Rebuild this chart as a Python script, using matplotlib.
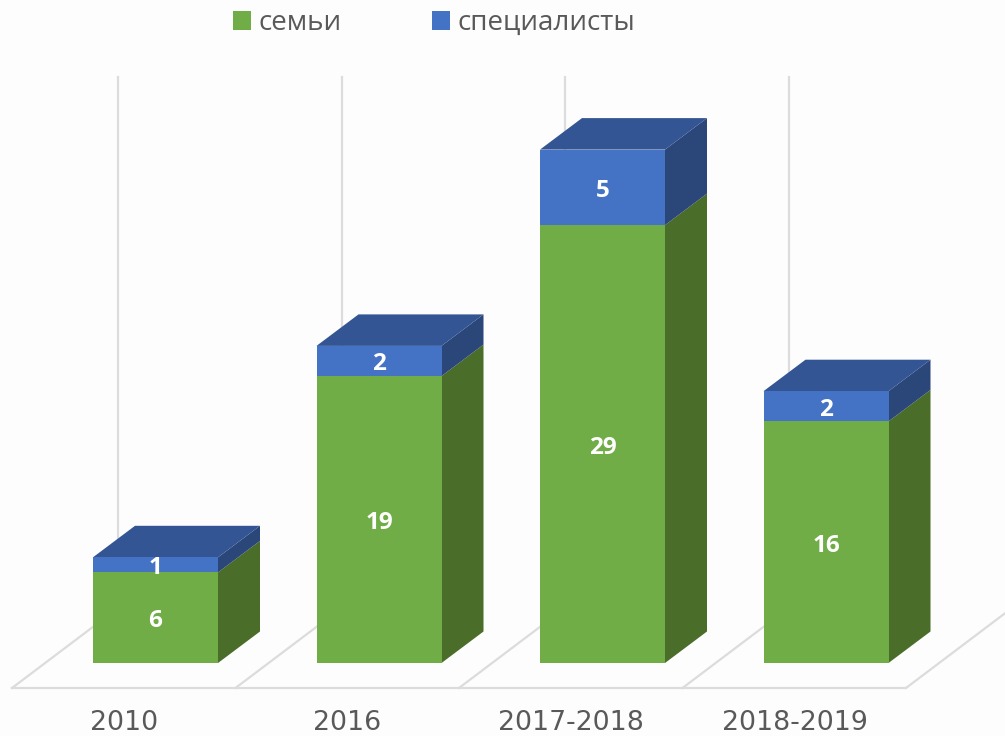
import matplotlib
matplotlib.use("Agg")
import matplotlib.pyplot as plt
from matplotlib.patches import Patch, Polygon

categories = ["2010", "2016", "2017-2018", "2018-2019"]
families = [6, 19, 29, 16]
specialists = [1, 2, 5, 2]
series_names = ["семьи", "специалисты"]

GREEN, GREEN_SIDE = "#70AD47", "#4A6D2A"
BLUE, BLUE_SIDE, BLUE_TOP = "#4472C4", "#2B4679", "#335593"
GRID = "#DCDCDC"
BG = "#FDFDFD"
TXT = "#595959"

W, H = 1005, 736
PX_X = 223.5      # pixels per category
PX_Y = 15.1       # pixels per value unit
X0, Y0 = 155.5, 663  # pixel position of first bar centre / baseline

fig = plt.figure(figsize=(W / 100, H / 100), dpi=100, facecolor=BG)
ax = fig.add_axes([0, 0, 1, 1], facecolor=BG)
ax.set_xlim(-X0 / PX_X, (W - X0) / PX_X)
ax.set_ylim((Y0 - H) / PX_Y, Y0 / PX_Y)
ax.axis("off")

bar_w = 125 / PX_X
dx, dy = 42 / PX_X, 31.5 / PX_Y
xs = list(range(len(categories)))

# Floor and back grid lines
floor_y = -25 / PX_Y
floor_dx, floor_dy = 106 / PX_X, 80 / PX_Y
grid_top = (Y0 - 77) / PX_Y
floor_left = (12 - X0) / PX_X
for i in range(len(categories) + 1):
    fx = floor_left + i
    ax.plot([fx, fx + floor_dx], [floor_y, floor_y + floor_dy], color=GRID, lw=1.6, zorder=1)
    if i < len(categories):
        ax.plot([fx + floor_dx] * 2, [floor_y + floor_dy, grid_top], color=GRID, lw=1.6, zorder=1)
ax.plot([floor_left, floor_left + len(categories) - 0.005], [floor_y, floor_y], color=GRID, lw=1.6, zorder=1)

# Front faces
ax.bar(xs, families, width=bar_w, color=GREEN, zorder=3)
ax.bar(xs, specialists, width=bar_w, bottom=families, color=BLUE, zorder=3)


def side(x, y0, y1, color):
    r = x + bar_w / 2
    ax.add_patch(Polygon([(r, y0), (r + dx, y0 + dy), (r + dx, y1 + dy), (r, y1)],
                         closed=True, facecolor=color, edgecolor="none", zorder=2.5))


label_shift = 3.5 / PX_Y
for x, f, s in zip(xs, families, specialists):
    side(x, 0, f, GREEN_SIDE)
    side(x, f, f + s, BLUE_SIDE)
    t = f + s
    l, r = x - bar_w / 2, x + bar_w / 2
    ax.add_patch(Polygon([(l, t), (r, t), (r + dx, t + dy), (l + dx, t + dy)],
                         closed=True, facecolor=BLUE_TOP, edgecolor="none", zorder=2.5))
    ax.text(x, f / 2 - label_shift, str(f), color="white", fontsize=17.5, fontweight="bold",
            family="Open Sans", ha="center", va="center", zorder=4)
    ax.text(x, f + s / 2 - label_shift, str(s), color="white", fontsize=17.5, fontweight="bold",
            family="Open Sans", ha="center", va="center", zorder=4)

# Category labels
label_y = -(723.5 - Y0) / PX_Y
for x, c in zip(xs, categories):
    ax.text(x - 31.5 / PX_X, label_y, c, color=TXT, fontsize=19.3, family="DejaVu Sans",
            ha="center", va="center")

handles = [Patch(facecolor=GREEN, edgecolor="none"), Patch(facecolor=BLUE, edgecolor="none")]
fig.legend(handles, series_names, ncol=2, frameon=False, loc="upper left",
           bbox_to_anchor=(225 / W, 1 - 1 / H), labelcolor=TXT,
           prop={"family": "Open Sans", "size": 20},
           handlelength=0.65, handleheight=0.65, handletextpad=0.25, columnspacing=3.27,
           borderpad=0.3, borderaxespad=0)

fig.savefig("out.png", dpi=100, facecolor=BG)
